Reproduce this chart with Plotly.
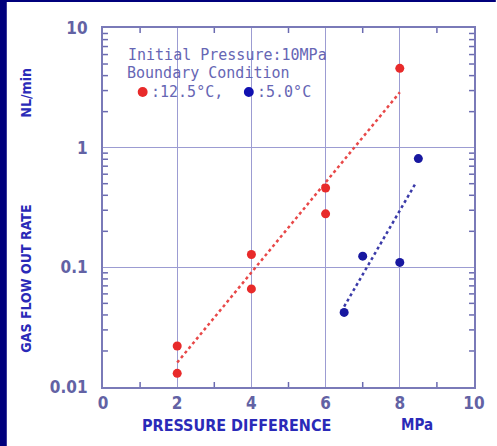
import plotly.graph_objects as go

# Measured gas outflow at two boundary temperatures
red_x = [2, 2, 4, 4, 6, 6, 8]
red_y = [0.022, 0.013, 0.128, 0.066, 0.46, 0.28, 4.6]
blue_x = [6.5, 7, 8, 8.5]
blue_y = [0.042, 0.124, 0.11, 0.81]

# Trend lines (end points)
red_fit_x = [2, 8]
red_fit_y = [0.016, 2.9]
blue_fit_x = [6.5, 8.42]
blue_fit_y = [0.047, 0.5]

x_ticks = [0, 2, 4, 6, 8, 10]
y_ticks = [0.01, 0.1, 1, 10]
y_tick_text = ["0.01", "0.1", "1", "10"]

W, H = 497, 446
L, R, T, B = 103, 20, 28, 59
PW, PH = W - L - R, H - T - B


def px(x):
    return (x - L) / PW


def py(y):
    return (H - B - y) / PH


AX = "#7a7ab8"
TICK = "#6a6ab0"
GRID = "#9c9cd2"
TICKFONT = dict(family="DejaVu Sans Condensed, DejaVu Sans", size=17, color="#6262a4")
TITLEFONT = dict(family="DejaVu Sans Condensed, DejaVu Sans", size=14, color="#2a2ab8")
NOTEFONT = dict(family="DejaVu Sans Mono", size=15, color="#6666b4")

# minor tick positions
y_minor = [m * d for d in (0.01, 0.1, 1) for m in range(2, 10)]
x_minor = [1, 3, 5, 7, 9]

fig = go.Figure()

fig.add_trace(go.Scatter(x=red_fit_x, y=red_fit_y, mode="lines",
                         line=dict(color="#e84848", width=2.5, dash="dot"),
                         showlegend=False))
fig.add_trace(go.Scatter(x=blue_fit_x, y=blue_fit_y, mode="lines",
                         line=dict(color="#3a3aa8", width=2.5, dash="dot"),
                         showlegend=False))
fig.add_trace(go.Scatter(x=red_x, y=red_y, mode="markers",
                         marker=dict(color="#e82a2a", size=9),
                         showlegend=False))
fig.add_trace(go.Scatter(x=blue_x, y=blue_y, mode="markers",
                         marker=dict(color="#1818a0", size=9),
                         showlegend=False))

fig.update_xaxes(range=[0, 10], tickmode="array", tickvals=x_ticks,
                 ticktext=[f"<b>{v}</b>" for v in x_ticks],
                 showline=True, linecolor=AX, linewidth=2, mirror=True,
                 ticks="", showgrid=True, gridcolor=GRID, gridwidth=1,
                 zeroline=False, tickfont=TICKFONT)
fig.update_yaxes(type="log", range=[-2, 1], tickmode="array", tickvals=y_ticks,
                 ticktext=[f"<b>{t}</b>" for t in y_tick_text],
                 showline=True, linecolor=AX, linewidth=2, mirror=True,
                 ticks="", showgrid=True, gridcolor=GRID, gridwidth=1,
                 zeroline=False, tickfont=TICKFONT, ticklabelstandoff=10)

annotations = [
    dict(x=px(25), y=py(279), text="<b>GAS FLOW OUT RATE</b>", textangle=-90, font=TITLEFONT),
    dict(x=px(25), y=py(93), text="<b>NL/min</b>", textangle=-90, font=TITLEFONT),
    dict(x=px(238), y=py(425), text="<b>PRESSURE DIFFERENCE</b>", font={**TITLEFONT, "size": 16}),
    dict(x=px(420), y=py(425), text="<b>MPa</b>", font={**TITLEFONT, "size": 15}),
    dict(x=px(126), y=py(55), text="Initial Pressure:10MPa", xanchor="left", font=NOTEFONT),
    dict(x=px(125), y=py(73), text="Boundary Condition", xanchor="left", font=NOTEFONT),
    dict(x=px(149), y=py(92), text=":12.5°C,", xanchor="left", font=NOTEFONT),
    dict(x=px(256), y=py(92), text=":5.0°C", xanchor="left", font=NOTEFONT),
]
for a in annotations:
    a.update(xref="paper", yref="paper", showarrow=False)
    a.setdefault("xanchor", "center")
    a["yanchor"] = "middle"
fig.update_layout(annotations=annotations)

shapes = [
    # navy frame strips
    dict(type="rect", xref="paper", yref="paper", x0=px(-2), x1=px(6), y0=py(H + 2), y1=py(-2),
         fillcolor="#00007c", line=dict(width=0), layer="below"),
    dict(type="rect", xref="paper", yref="paper", x0=px(-2), x1=px(W + 2), y0=py(2), y1=py(-2),
         fillcolor="#00007c", line=dict(width=0), layer="below"),
    # legend dots
    dict(type="circle", xref="paper", yref="paper", x0=px(138), x1=px(148), y0=py(97), y1=py(87),
         fillcolor="#e82a2a", line=dict(width=0)),
    dict(type="circle", xref="paper", yref="paper", x0=px(245), x1=px(255), y0=py(97), y1=py(87),
         fillcolor="#1010b0", line=dict(width=0)),
]

# inside tick marks on all four sides of the frame
tlx = 5 / PH   # tick length as a fraction of the plot height (for x ticks)
tly = 5 / PW   # tick length as a fraction of the plot width (for y ticks)
tick_line = dict(color=TICK, width=1.5)
for v in x_minor:
    shapes.append(dict(type="line", xref="x", yref="y domain", x0=v, x1=v, y0=0, y1=tlx, line=tick_line))
    shapes.append(dict(type="line", xref="x", yref="y domain", x0=v, x1=v, y0=1 - tlx, y1=1, line=tick_line))
for v in y_minor:
    shapes.append(dict(type="line", xref="x domain", yref="y", x0=0, x1=tly, y0=v, y1=v, line=tick_line))
    shapes.append(dict(type="line", xref="x domain", yref="y", x0=1 - tly, x1=1, y0=v, y1=v, line=tick_line))
fig.update_layout(shapes=shapes)

fig.update_layout(width=W, height=H, margin=dict(l=L, r=R, t=T, b=B, pad=0),
                  paper_bgcolor="white", plot_bgcolor="white", showlegend=False)

fig.write_html("out.html")
